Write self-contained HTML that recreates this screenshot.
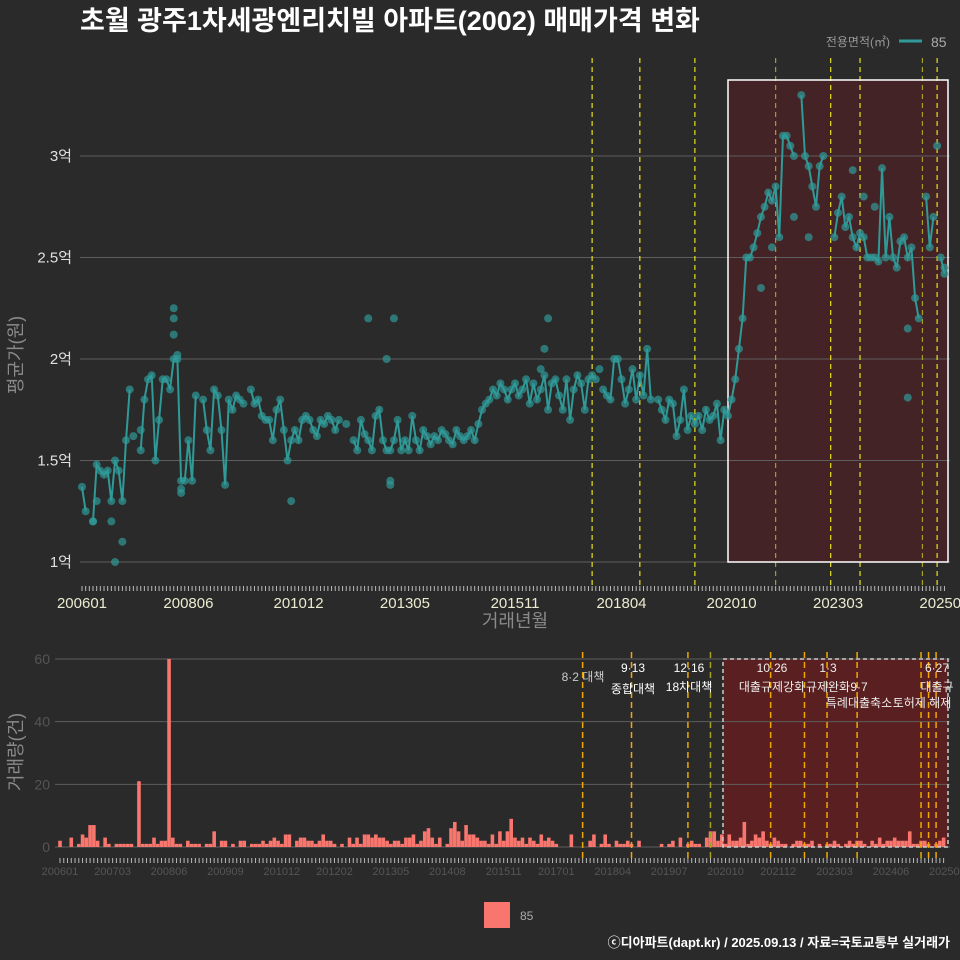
<!DOCTYPE html>
<html><head><meta charset="utf-8"><style>
html,body{margin:0;background:#2a2a2a;overflow:hidden;}
svg{display:block;}
svg text{font-family:"Liberation Sans","Noto Sans CJK KR",sans-serif;}
</style></head><body>
<svg id="c" width="960" height="960" xmlns="http://www.w3.org/2000/svg">
<rect width="960" height="960" fill="#2a2a2a"/>
<text x="80" y="30" font-size="27" font-weight="bold" fill="#ffffff">초월 광주1차세광엔리치빌 아파트(2002) 매매가격 변화</text>
<text x="890" y="46" font-size="12" fill="#999" text-anchor="end">전용면적(㎡)</text>
<line x1="899" y1="41" x2="922" y2="41" stroke="#2f9a98" stroke-width="3"/>
<text x="931" y="47" font-size="14" fill="#aaa">85</text>
<rect x="484" y="902" width="26" height="26" fill="#f8766d"/>
<text x="520" y="920" font-size="12" fill="#aaa">85</text>
<text x="950" y="947" font-size="13" font-weight="bold" fill="#fff" text-anchor="end">ⓒ디아파트(dapt.kr) / 2025.09.13 / 자료=국토교통부 실거래가</text>
<g id="topg"></g><g id="botg"></g>
</svg>
<script>
const months=[];for(let y=2006;y<=2025;y++)for(let m=1;m<=12;m++){if(y===2025&&m>8)break;months.push(''+y+(m<10?'0':'')+m);}
const priceAvg=[1.37,1.25,null,1.2,1.48,1.45,1.43,1.45,1.3,1.5,1.45,1.3,
1.6,1.85,null,null,1.55,1.8,1.9,1.92,1.5,1.7,1.9,1.9,
1.85,2.0,2.0,1.4,1.4,1.6,1.4,1.82,null,1.8,1.65,1.55,
1.85,1.82,1.65,1.38,1.8,1.75,1.82,1.8,1.78,null,1.85,1.78,
1.8,1.72,1.7,1.7,1.6,1.75,1.8,1.65,1.5,1.6,1.65,1.6,
1.7,1.72,1.7,1.65,1.62,1.7,1.68,1.72,1.7,1.65,1.7,null,
1.68,null,1.6,1.55,1.7,1.63,1.6,1.55,1.72,1.75,1.6,1.55,
1.55,1.6,1.7,1.55,1.6,1.55,1.72,1.6,1.55,1.65,1.62,1.58,
1.62,1.6,1.65,1.63,1.6,1.58,1.65,1.62,1.6,1.62,1.65,1.6,
1.68,1.75,1.78,1.8,1.85,1.82,1.88,1.85,1.8,1.85,1.88,1.82,
1.85,1.9,1.78,1.88,1.8,1.85,1.92,1.75,1.88,1.9,1.82,1.75,
1.9,1.7,1.85,1.92,1.88,1.75,1.9,1.92,1.9,null,1.85,1.82,
1.8,2.0,2.0,1.9,1.78,1.85,1.95,1.8,1.92,1.82,2.05,1.8,
null,1.8,1.75,1.7,1.8,1.78,1.62,1.7,1.85,1.65,1.72,1.68,
1.72,1.65,1.75,1.7,1.72,1.78,1.6,1.75,1.72,1.8,1.9,2.05,
2.2,2.5,2.5,2.55,2.62,2.7,2.75,2.82,2.78,2.85,2.6,3.1,
3.1,3.05,3.0,null,3.3,3.0,2.95,2.85,2.75,2.95,3.0,null,
null,2.6,2.72,2.8,2.65,2.7,2.6,2.55,2.62,2.6,2.5,2.5,
2.5,2.48,2.94,2.5,2.7,2.5,2.45,2.58,2.6,2.5,2.55,2.3,
2.2,null,2.8,2.55,2.7,null,2.5,2.42];
const extraIdx=[9,11,8,3,4,25,25,25,26,27,27,14,16,78,85,83,84,84,57,127,126,125,141,210,225,198,194,233,188,185,216,213,225,235];
const extraVal=[1.0,1.1,1.2,1.2,1.3,2.25,2.2,2.12,2.02,1.34,1.36,1.62,1.65,2.2,2.2,2.0,1.38,1.4,1.3,2.2,2.05,1.95,1.95,2.93,1.81,2.6,2.7,3.05,2.55,2.35,2.75,2.8,2.15,2.45];
const volume=[2,0,0,3,0,1,4,3,7,7,2,0,3,1,0,1,1,1,1,1,0,21,1,1,1,3,1,2,2,60,3,1,1,0,2,1,
1,1,0,1,1,5,0,2,2,0,1,0,2,2,0,1,1,1,2,1,2,3,2,1,4,4,0,2,3,3,2,2,1,2,4,2,
2,1,0,1,0,3,1,3,1,4,4,3,4,3,3,2,1,2,2,1,3,3,4,1,2,5,6,3,1,3,0,1,6,8,5,2,
7,4,4,3,2,2,1,4,1,5,2,5,9,3,2,3,1,3,2,1,4,2,3,2,1,0,0,0,4,0,0,0,0,2,4,0,
1,4,1,0,2,1,1,2,1,0,2,0,0,0,0,0,1,0,1,2,0,3,0,1,2,1,1,0,3,5,5,2,4,1,4,2,
2,3,8,1,2,4,3,5,2,1,3,2,1,1,0,1,2,2,1,1,2,0,1,0,1,1,2,1,0,1,2,1,2,2,1,0,
2,1,3,1,2,2,3,2,2,2,5,1,1,2,2,1,0,1,2,3];
const topTicks=['200601','200806','201012','201305','201511','201804','202010','202303','202508'];
const botTicks=['200601','200703','200806','200909','201012','201202','201305','201408','201511','201701','201804','201907','202010','202112','202303','202406','202509'];
const priceTicks=[1,1.5,2,2.5,3];const priceTickLabels=['1억','1.5억','2억','2.5억','3억'];
const volTicks=[0,20,40,60];
const eventIdx=[139,152,167,173,189,198,204,212,229,231,233];
const eventInTop=[1,1,1,0,1,0,1,1,1,0,1];

const NS='http://www.w3.org/2000/svg';
function mk(p,t,a,txt){const e=document.createElementNS(NS,t);for(const k in a)e.setAttribute(k,a[k]);if(txt!=null)e.textContent=txt;p.appendChild(e);return e;}
const mi=s=>{const y=+s.slice(0,4),m=+s.slice(4);return (y-2006)*12+m-1;};
const xT=i=>82+i*3.67, yT=v=>562-(v-1)*203;
const xB=i=>60+i*3.76, yB=v=>847-v*3.133;
const topG=document.getElementById('topg'), botG=document.getElementById('botg');

let e;
e=mk(topG,'rect',{x:728,y:80,width:220,height:482,fill:'#432326'});

priceTicks.forEach((v,k)=>{
 e=mk(topG,'line',{x1:80,x2:950,y1:yT(v),y2:yT(v),stroke:'#5e5e5e','stroke-width':1});
 
 e=mk(topG,'text',{x:72,y:yT(v)+5,'font-size':15,fill:'#e0e0e0','text-anchor':'end'},priceTickLabels[k]);
 
});
eventIdx.forEach((i,k)=>{if(!eventInTop[k])return;
 e=mk(topG,'line',{x1:xT(i),x2:xT(i),y1:58,y2:590,stroke:(i===189||i===229)?'#a8a020':'#e8e020','stroke-width':1.2,'stroke-dasharray':'5,4'});
 
});
e=mk(topG,'rect',{x:728,y:80,width:220,height:482,fill:'none',stroke:'#fff','stroke-width':1.5});

let seg=[];const segs=[];
priceAvg.forEach((v,i)=>{if(v==null){if(seg.length)segs.push(seg);seg=[];}else seg.push([xT(i),yT(v)]);});
if(seg.length)segs.push(seg);
segs.forEach(s=>{if(s.length<2)return;
 e=mk(topG,'polyline',{points:s.map(p=>p.join(',')).join(' '),fill:'none',stroke:'#2f9a98','stroke-width':2});
 
});
priceAvg.forEach((v,i)=>{if(v==null)return;
 e=mk(topG,'circle',{cx:xT(i),cy:yT(v),r:4,fill:'#2f9a98','fill-opacity':0.7});
 
});
extraIdx.forEach((i,k)=>{
 e=mk(topG,'circle',{cx:xT(i),cy:yT(extraVal[k]),r:4,fill:'#2f9a98','fill-opacity':0.7});
 
});
for(let i=0;i<months.length;i++){
 e=mk(topG,'line',{x1:xT(i),x2:xT(i),y1:586,y2:591,stroke:'#bbb','stroke-width':1});
 
}
topTicks.forEach(t=>{
 e=mk(topG,'text',{x:xT(mi(t)),y:608,'font-size':15,fill:'#ecebd0','text-anchor':'middle'},t);
 
});
e=mk(topG,'text',{x:515,y:627,'font-size':18,fill:'#8a8a8a','text-anchor':'middle'},'거래년월');

e=mk(topG,'text',{x:22,y:355,'font-size':18,fill:'#8a8a8a','text-anchor':'middle',transform:'rotate(-90 22 355)'},'평균가(원)');


e=mk(botG,'rect',{x:723,y:659,width:225,height:188,fill:'#5a1f20'});

volTicks.forEach(v=>{
 e=mk(botG,'line',{x1:55,x2:950,y1:yB(v),y2:yB(v),stroke:'#5e5e5e','stroke-width':1});
 
 e=mk(botG,'text',{x:50,y:yB(v)+5,'font-size':14,fill:'#555','text-anchor':'end'},v);
 
});
volume.forEach((v,i)=>{if(!v)return;
 e=mk(botG,'rect',{x:xB(i)-1.8,y:yB(v),width:3.6,height:v*3.133,fill:'#f8766d'});
 
});
eventIdx.forEach(i=>{
 e=mk(botG,'line',{x1:xB(i),x2:xB(i),y1:652,y2:858,stroke:(i===173)?'#a8a020':'#f0a800','stroke-width':1.5,'stroke-dasharray':'6,4'});
 
});
e=mk(botG,'rect',{x:723,y:659,width:225,height:188,fill:'none',stroke:'#ccc','stroke-width':1.5,'stroke-dasharray':'4,3'});

const notes=[[583,681,'8·2 대책','#ccc'],[633,672,'9·13','#fff'],[633,693,'종합대책','#fff'],[689,672,'12·16','#fff'],[689,691,'18차대책','#fff'],
[772,672,'10·26','#eee'],[772,691,'대출규제강화','#eee'],[828,672,'1·3','#eee'],[828,691,'규제완화','#eee'],[859,691,'9·7','#eee'],
[859,707,'특례대출축소','#eee'],[922,707,'토허제 해제','#eee'],[937,672,'6·27','#eee'],[937,691,'대출규','#eee']];
notes.forEach(n=>{
 e=mk(botG,'text',{x:n[0],y:n[1],'font-size':12,fill:n[3],'text-anchor':'middle'},n[2]);
 
});
for(let i=0;i<months.length;i++){
 e=mk(botG,'line',{x1:xB(i),x2:xB(i),y1:858,y2:863,stroke:'#bbb','stroke-width':1});
 
}
botTicks.forEach(t=>{
 e=mk(botG,'text',{x:xB(mi(t)),y:875,'font-size':11,fill:'#555','text-anchor':'middle'},t);
 
});
e=mk(botG,'text',{x:22,y:752,'font-size':18,fill:'#8a8a8a','text-anchor':'middle',transform:'rotate(-90 22 752)'},'거래량(건)');

</script>
</body></html>
